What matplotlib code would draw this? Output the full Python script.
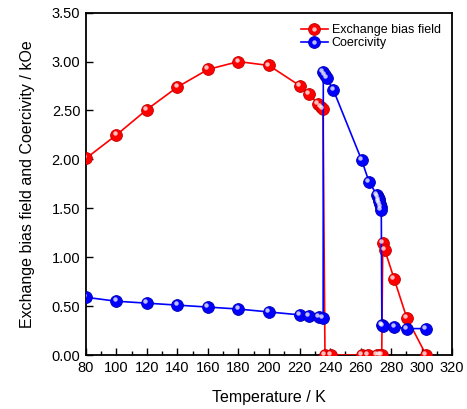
"""Exchange bias field and coercivity versus temperature."""

import matplotlib
matplotlib.use('Agg')
import matplotlib.pyplot as plt
import matplotlib.transforms as mtransforms
from matplotlib.ticker import MultipleLocator, FormatStrFormatter

# Exchange bias field (kOe)
heb_T = [80, 100, 120, 140, 160, 180, 200, 220.5, 226, 232, 234, 235.4,
         236.7, 240.5, 260.8, 265.1, 270.6, 272.8, 273.9,
         274.6, 276, 282, 290.3, 303]
heb_val = [2.01, 2.25, 2.51, 2.74, 2.92, 3.00, 2.96, 2.75, 2.67, 2.57, 2.54, 2.52,
           0.0, 0.0, 0.0, 0.0, 0.0, 0.0, 0.0,
           1.15, 1.07, 0.78, 0.38, 0.0]

# Coercivity (kOe)
hc_T = [80, 100, 120, 140, 160, 180, 200, 220.5, 226, 232.5, 235.5,
        235.6, 236.7, 237.8, 242.2, 260.8, 265.6,
        270.6, 271.2, 271.8, 272.3, 272.8, 273.2, 273.6,
        274.0, 274.8, 282.2, 290.3, 303]
hc_val = [0.59, 0.55, 0.53, 0.51, 0.49, 0.47, 0.44, 0.41, 0.40, 0.39, 0.375,
          2.89, 2.86, 2.83, 2.71, 1.99, 1.77,
          1.64, 1.62, 1.59, 1.57, 1.54, 1.51, 1.48,
          0.31, 0.30, 0.29, 0.27, 0.27]


def sphere_plot(ax, x, y, color, edge, label):
    """Line with shaded ball markers."""
    line, = ax.plot(x, y, '-o', color=color, lw=1.2, ms=8.5,
                    mfc=color, mec=edge, mew=0.6, label=label, zorder=3)
    shine = mtransforms.offset_copy(ax.transData, fig=ax.figure,
                                    x=-1.3, y=1.4, units='points')
    glint, = ax.plot(x, y, 'o', ms=3.2, mfc='white', mec='none',
                     alpha=0.75, transform=shine, zorder=4)
    return line, glint


def main():
    plt.rcParams['font.family'] = ['Liberation Sans', 'DejaVu Sans']

    fig = plt.figure(figsize=(4.67, 4.09), dpi=100)
    ax = fig.add_axes([0.184, 0.132, 0.784, 0.837])

    h1 = sphere_plot(ax, heb_T, heb_val, '#ff0000', '#c00000',
                     'Exchange bias field')
    h2 = sphere_plot(ax, hc_T, hc_val, '#0000ff', '#0000b0', 'Coercivity')

    ax.set_xlim(80, 320)
    ax.set_ylim(0, 3.5)
    ax.xaxis.set_major_locator(MultipleLocator(20))
    ax.xaxis.set_minor_locator(MultipleLocator(10))
    ax.yaxis.set_major_locator(MultipleLocator(0.5))
    ax.yaxis.set_major_formatter(FormatStrFormatter('%.2f'))
    ax.tick_params(which='both', direction='in', labelsize=10.5,
                   width=1.0, pad=4)
    ax.tick_params(which='major', length=5)
    ax.tick_params(which='minor', length=3)
    for sp in ax.spines.values():
        sp.set_linewidth(1.3)

    ax.set_xlabel('Temperature / K', fontsize=11.5, labelpad=11)
    ax.set_ylabel('Exchange bias field and Coercivity / kOe', fontsize=11.5,
                  labelpad=12)

    ax.legend([h1, h2], ['Exchange bias field', 'Coercivity'],
              loc='upper right', frameon=False, fontsize=9,
              handlelength=2.2, handletextpad=0.3, labelspacing=0.1,
              borderaxespad=0.5)

    fig.savefig('out.png', dpi=100)


if __name__ == '__main__':
    main()
